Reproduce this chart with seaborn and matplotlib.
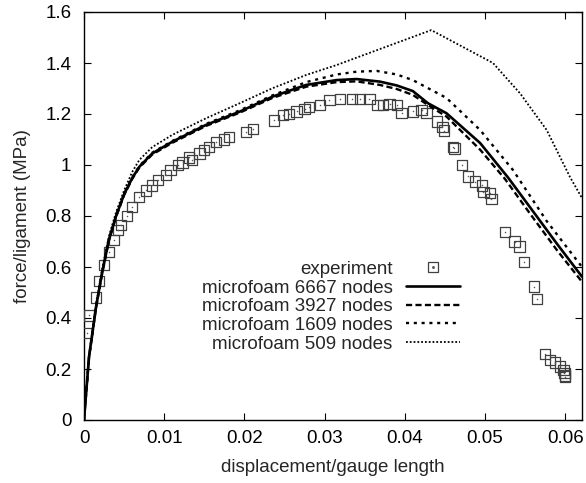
import numpy as np
import pandas as pd
import matplotlib
matplotlib.use("Agg")
import matplotlib.pyplot as plt
from matplotlib.ticker import FuncFormatter
from matplotlib.lines import Line2D
import seaborn as sns

# ---------------- data ----------------
exp_x = [0.0004, 0.0006, 0.0015, 0.0019, 0.0025, 0.0031, 0.0037, 0.0042, 0.0046, 0.0054,
         0.0060, 0.0069, 0.0077, 0.0085, 0.0092, 0.0102, 0.0108, 0.0117, 0.0123, 0.0131,
         0.0135, 0.0144, 0.0150, 0.0156, 0.0165, 0.0175, 0.0181, 0.0202, 0.0211, 0.0237,
         0.0248, 0.0256, 0.0265, 0.0275, 0.0281, 0.0294, 0.0306, 0.0319, 0.0334, 0.0344,
         0.0356, 0.0366, 0.0373, 0.0381, 0.0390, 0.0396, 0.0410, 0.0421, 0.0427, 0.0440,
         0.0447, 0.0449, 0.0460, 0.0462, 0.0471, 0.0479, 0.0488, 0.0496, 0.0498, 0.0506,
         0.0508, 0.0525, 0.0537, 0.0543, 0.0549, 0.0561, 0.0565, 0.0575, 0.0581, 0.0587,
         0.0594, 0.0598, 0.0599, 0.0600, 0.0600]
exp_y = [0.34, 0.41, 0.48, 0.545, 0.608, 0.66, 0.705, 0.745, 0.765, 0.80,
         0.835, 0.875, 0.90, 0.92, 0.94, 0.96, 0.98, 1.00, 1.01, 1.03,
         1.02, 1.045, 1.06, 1.07, 1.09, 1.10, 1.11, 1.13, 1.14, 1.175,
         1.195, 1.20, 1.21, 1.22, 1.227, 1.235, 1.255, 1.26, 1.26, 1.258,
         1.26, 1.235, 1.235, 1.24, 1.235, 1.205, 1.21, 1.215, 1.205, 1.17,
         1.15, 1.135, 1.07, 1.065, 1.00, 0.955, 0.935, 0.92, 0.895, 0.89,
         0.867, 0.737, 0.70, 0.68, 0.62, 0.523, 0.475, 0.26, 0.235, 0.225,
         0.21, 0.195, 0.185, 0.175, 0.17]

n6667_x = [0, 0.000625, 0.0015, 0.00225, 0.0031, 0.004, 0.005, 0.006, 0.0069, 0.0085,
           0.0110, 0.0152, 0.0194, 0.0235, 0.0277, 0.0315, 0.0340, 0.0369, 0.0390, 0.0410,
           0.0429, 0.0452, 0.0494, 0.0529, 0.0556, 0.0590, 0.0621]
n6667_y = [0, 0.247, 0.443, 0.576, 0.706, 0.80, 0.885, 0.948, 0.993, 1.045,
           1.091, 1.157, 1.209, 1.268, 1.314, 1.333, 1.337, 1.327, 1.312, 1.290,
           1.242, 1.203, 1.086, 0.95, 0.835, 0.69, 0.562]

n3927_x = [0, 0.000625, 0.0015, 0.00225, 0.0031, 0.004, 0.005, 0.006, 0.0069, 0.0085,
           0.0110, 0.0152, 0.0194, 0.0235, 0.0277, 0.0315, 0.0340, 0.0369, 0.0390, 0.0410,
           0.0429, 0.0452, 0.0494, 0.0525, 0.0556, 0.0590, 0.0621]
n3927_y = [0, 0.245, 0.44, 0.573, 0.703, 0.797, 0.882, 0.945, 0.99, 1.041,
           1.087, 1.153, 1.205, 1.263, 1.307, 1.325, 1.328, 1.314, 1.298, 1.275,
           1.235, 1.19, 1.06, 0.945, 0.81, 0.665, 0.542]

n1609_x = [0, 0.000625, 0.0015, 0.00225, 0.0031, 0.004, 0.005, 0.006, 0.0069, 0.0085,
           0.0110, 0.0152, 0.0194, 0.0235, 0.0277, 0.0315, 0.0340, 0.0365, 0.0390, 0.0410,
           0.0452, 0.0494, 0.0535, 0.0577, 0.0621]
n1609_y = [0, 0.248, 0.445, 0.578, 0.708, 0.802, 0.888, 0.951, 0.996, 1.048,
           1.094, 1.161, 1.214, 1.273, 1.325, 1.355, 1.366, 1.369, 1.355, 1.333,
           1.263, 1.137, 0.98, 0.78, 0.60]

n509_x = [0, 0.000625, 0.0015, 0.00225, 0.0031, 0.004, 0.005, 0.006, 0.0069, 0.0085,
          0.0110, 0.0152, 0.0194, 0.0235, 0.0277, 0.0315, 0.0433, 0.0510, 0.0544, 0.0577,
          0.0606, 0.0621]
n509_y = [0, 0.25, 0.45, 0.59, 0.72, 0.815, 0.90, 0.972, 1.02, 1.07,
          1.118, 1.183, 1.242, 1.301, 1.353, 1.392, 1.529, 1.40, 1.28, 1.137,
          0.953, 0.87]

labels = ["experiment", "microfoam 6667 nodes", "microfoam 3927 nodes",
          "microfoam 1609 nodes", "microfoam 509 nodes"]
x_ticks = [0, 0.01, 0.02, 0.03, 0.04, 0.05, 0.06]
y_ticks = [0, 0.2, 0.4, 0.6, 0.8, 1.0, 1.2, 1.4, 1.6]

# ---------------- style ----------------
FS = 13.5
sns.set_theme(style="ticks")
plt.rcParams["font.family"] = ["Liberation Sans", "DejaVu Sans"]
plt.rcParams["font.size"] = FS

fig = plt.figure(figsize=(5.86, 4.83), dpi=100)
ax = fig.add_axes([84 / 586, 1 - 420 / 483, (582 - 84) / 586, (420 - 12) / 483])

line_specs = [
    (n6667_x, n6667_y, labels[1], dict(linewidth=1.9, linestyle="-")),
    (n3927_x, n3927_y, labels[2], dict(linewidth=1.7, dashes=(2.6, 1.4))),
    (n1609_x, n1609_y, labels[3], dict(linewidth=1.7, dashes=(1.3, 2.0))),
    (n509_x, n509_y, labels[4], dict(linewidth=1.3, dashes=(1.0, 1.1))),
]

sns.scatterplot(x=exp_x, y=exp_y, ax=ax, marker="s", s=55, facecolor="none",
                edgecolor="0.25", linewidth=0.9, label=labels[0], zorder=3)
sns.scatterplot(x=exp_x, y=exp_y, ax=ax, marker="o", s=1.2, color="0.35",
                linewidth=0, legend=False, zorder=3)

for xs, ys, lab, kw in line_specs:
    sns.lineplot(x=xs, y=ys, ax=ax, color="black", sort=False, estimator=None,
                 label=lab, zorder=4, **kw)

ax.set_xlim(0, 0.0621)
ax.set_ylim(0, 1.6)
ax.set_xticks(x_ticks)
ax.set_yticks(y_ticks)
fmt = FuncFormatter(lambda v, p: f"{v:g}")
ax.xaxis.set_major_formatter(fmt)
ax.yaxis.set_major_formatter(fmt)
ax.tick_params(direction="in", length=5, width=0.8, top=True, right=True,
               colors="black", labelsize=FS, pad=7)
ax.tick_params(axis="y", pad=9)
for s in ax.spines.values():
    s.set_visible(True)
    s.set_color("black")
    s.set_linewidth(1.0)

ax.set_xlabel("displacement/gauge length", fontsize=FS, labelpad=9)
ax.set_ylabel("force/ligament (MPa)", fontsize=FS, labelpad=10)

# legend: experiment handle = square + centre dot
handles, labs = ax.get_legend_handles_labels()
sq = Line2D([], [], marker="s", markersize=7.4, markerfacecolor="none",
            markeredgecolor="0.25", markeredgewidth=0.9, linestyle="none")
dot = Line2D([], [], marker="o", markersize=1.1, color="0.35", linestyle="none")
hmap = dict(zip(labs, handles))
leg_handles = [(sq, dot)] + [hmap[l] for l in labels[1:]]
ax.legend(leg_handles, labels, loc="upper right", bbox_to_anchor=(0.755, 0.39),
          frameon=False, markerfirst=False, handlelength=2.9, handletextpad=0.7,
          labelspacing=0.08, borderpad=0, borderaxespad=0, fontsize=FS)

fig.savefig("out.png", dpi=100)
